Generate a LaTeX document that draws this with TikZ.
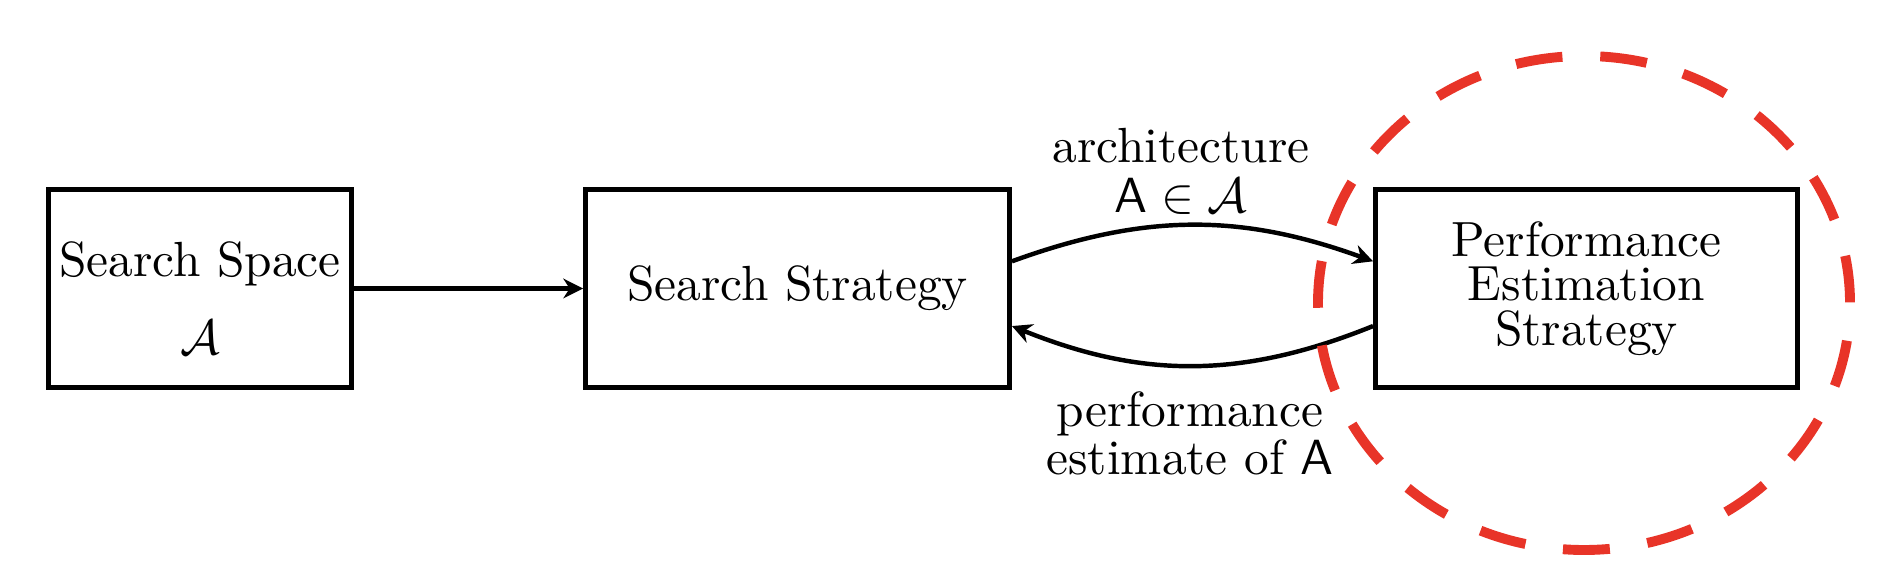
\documentclass[tikz,border=0pt]{standalone}
\usetikzlibrary{arrows.meta}
\definecolor{hlred}{RGB}{232,52,40}
\begin{document}
\begin{tikzpicture}[x=0.2024pt,y=-0.2024pt,
  box/.style={draw,line width=1pt,rectangle,inner sep=0pt,minimum height=40.1pt},
  conn/.style={line width=0.9pt,-{Stealth[length=4pt,width=4pt,inset=1.3pt]}},
  lbl/.style={anchor=base,inner sep=0pt},
  elbl/.style={anchor=north,inner sep=0pt,align=center}]
\useasboundingbox (0,0) rectangle (1894,582);
\node[box,minimum width=61.3pt] (ss) at (200,288.5) {};
\node[lbl] (sst) at (200,277) {Search Space};
\node[lbl] (ssa) at (200,355) {$\mathcal{A}$};
\node[box,minimum width=85.8pt] (strat) at (797.5,288.5) {Search Strategy};
\node[box,minimum width=85.4pt,align=center] (perf) at (1586.5,288.5) {Performance\\[-3pt]Estimation\\[-3pt]Strategy};
\draw[conn] (ss.east) -- (strat.west);
\draw[conn] ([yshift=5.5pt]strat.east) to[bend left=20] ([yshift=5.5pt]perf.west);
\draw[conn] ([yshift=-7.6pt]perf.west) to[bend left=22] ([yshift=-7.6pt]strat.east);
\node[elbl] (arch) at (1181,127) {architecture\\[-1.8pt]$\mathsf{A}\in\mathcal{A}$};
\node[elbl] (est) at (1190,391) {performance\\[-2.3pt]estimate of $\mathsf{A}$};
\draw[hlred,line width=2pt,dash pattern=on 9.5pt off 7.67pt,dash phase=9.5pt] (1584,303) ellipse [x radius=266,y radius=247];
\end{tikzpicture}
\end{document}
